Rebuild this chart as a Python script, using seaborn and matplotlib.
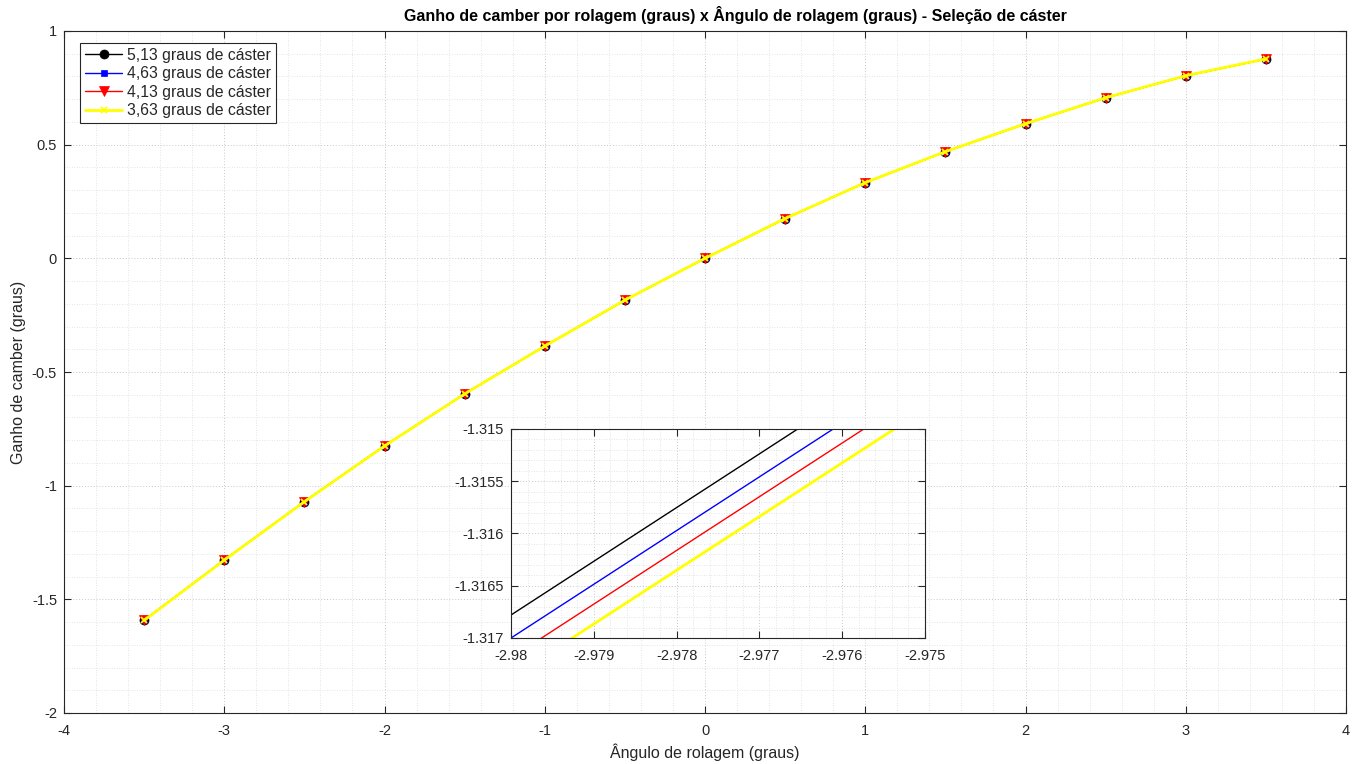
import matplotlib
matplotlib.use("Agg")
import matplotlib.pyplot as plt
from matplotlib.ticker import MultipleLocator, FuncFormatter
import numpy as np
import pandas as pd
import seaborn as sns

# Roll angle (degrees)
roll_angle = [-3.5, -3.0, -2.5, -2.0, -1.5, -1.0, -0.5, 0.0, 0.5, 1.0, 1.5, 2.0, 2.5, 3.0, 3.5]

# Camber gain (degrees) for each caster setting
camber_513 = [-1.59200, -1.32706, -1.07006, -0.82500, -0.59600, -0.38600, -0.18400, 0.00000,
              0.17500, 0.33300, 0.46900, 0.59200, 0.70600, 0.80300, 0.87700]
camber_463 = [-1.59227, -1.32728, -1.07028, -0.82517, -0.59612, -0.38608, -0.18404, 0.00000,
              0.17504, 0.33307, 0.46910, 0.59212, 0.70614, 0.80316, 0.87718]
camber_413 = [-1.59250, -1.32747, -1.07047, -0.82532, -0.59623, -0.38615, -0.18407, 0.00000,
              0.17507, 0.33313, 0.46918, 0.59222, 0.70626, 0.80330, 0.87734]
camber_363 = [-1.59275, -1.32766, -1.07066, -0.82547, -0.59634, -0.38622, -0.18411, 0.00000,
              0.17511, 0.33320, 0.46927, 0.59233, 0.70638, 0.80344, 0.87751]

series_labels = ["5,13 graus de cáster", "4,63 graus de cáster",
                 "4,13 graus de cáster", "3,63 graus de cáster"]

title_text = "Ganho de camber por rolagem (graus) x Ângulo de rolagem (graus) - Seleção de cáster"
xlabel_text = "Ângulo de rolagem (graus)"
ylabel_text = "Ganho de camber (graus)"

frames = []
for lab, vals in zip(series_labels, [camber_513, camber_463, camber_413, camber_363]):
    frames.append(pd.DataFrame({"roll": roll_angle, "camber": vals, "serie": lab}))
df = pd.concat(frames, ignore_index=True)

styles = {
    series_labels[0]: dict(color="black", marker="o", ms=6.5, lw=1.0, mew=0.5),
    series_labels[1]: dict(color="#0000ff", marker="s", ms=5, lw=1.0, mew=0.5),
    series_labels[2]: dict(color="#ff0000", marker="v", ms=7, lw=1.0, mew=0.5),
    series_labels[3]: dict(color="#ffff00", marker="x", ms=5, lw=2.0, mew=1.3),
}

sns.set_theme(style="white")
plt.rcParams["font.family"] = ["Liberation Sans", "DejaVu Sans"]
plt.rcParams["axes.unicode_minus"] = False

fig = plt.figure(figsize=(13.63, 7.64), dpi=100)
fig.patch.set_facecolor("white")


def style_axes(ax, fs):
    ax.set_facecolor("white")
    for s in ax.spines.values():
        s.set_color("#262626")
        s.set_linewidth(0.8)
        s.set_visible(True)
    ax.tick_params(axis="both", which="major", direction="in", length=5, width=0.8,
                   colors="#262626", labelsize=fs, top=True, right=True,
                   bottom=True, left=True, labelcolor="#262626")
    ax.tick_params(axis="x", which="major", pad=8)
    ax.tick_params(axis="y", which="major", pad=5)
    ax.tick_params(axis="both", which="minor", length=0)
    ax.grid(True, which="major", color="#c8c8c8", linestyle=(0, (1, 2)), linewidth=0.7)
    ax.grid(True, which="minor", color="#dcdcdc", linestyle=(0, (1, 2)), linewidth=0.6)
    ax.set_axisbelow(True)


ax = fig.add_axes([64 / 1363, 51 / 764, 1282 / 1363, 682 / 764])
style_axes(ax, 10.5)
for lab in series_labels:
    st = styles[lab]
    sns.lineplot(data=df[df["serie"] == lab], x="roll", y="camber", ax=ax,
                 color=st["color"], marker=st["marker"], markersize=st["ms"],
                 linewidth=st["lw"], markeredgewidth=st["mew"],
                 markeredgecolor=st["color"], label=lab, estimator=None, sort=False)
ax.set_xlim(-4, 4)
ax.set_ylim(-2, 1)
ax.xaxis.set_major_locator(MultipleLocator(1))
ax.xaxis.set_minor_locator(MultipleLocator(0.2))
ax.yaxis.set_major_locator(MultipleLocator(0.5))
ax.yaxis.set_minor_locator(MultipleLocator(0.1))
ax.xaxis.set_major_formatter(FuncFormatter(lambda v, p: f"{v:g}"))
ax.yaxis.set_major_formatter(FuncFormatter(lambda v, p: f"{v:g}"))
ax.set_xlabel(xlabel_text, fontsize=11.5, color="#262626", labelpad=4)
ax.set_ylabel(ylabel_text, fontsize=11.5, color="#262626", labelpad=4)
ax.set_title(title_text, fontsize=11.5, fontweight="bold", color="black", pad=7, x=0.524)

leg = ax.legend(loc="upper left", bbox_to_anchor=(0.0125, 0.982), fontsize=11.3,
                frameon=True, fancybox=False, framealpha=1, edgecolor="#262626",
                borderpad=0.3, labelspacing=0.22, handlelength=2.4, handletextpad=0.3,
                borderaxespad=0.0)
leg.get_frame().set_linewidth(0.8)

# Zoomed view near the -3 degree roll point
axi = fig.add_axes([511 / 1363, 126 / 764, 414 / 1363, 209 / 764])
style_axes(axi, 10.5)
for lab in series_labels:
    st = styles[lab]
    sns.lineplot(data=df[df["serie"] == lab], x="roll", y="camber", ax=axi,
                 color=st["color"], linewidth=st["lw"] * 1.0, legend=False,
                 estimator=None, sort=False)
axi.set_xlim(-2.98, -2.975)
axi.set_ylim(-1.317, -1.315)
axi.xaxis.set_major_locator(MultipleLocator(0.001))
axi.xaxis.set_minor_locator(MultipleLocator(0.0002))
axi.yaxis.set_major_locator(MultipleLocator(0.0005))
axi.yaxis.set_minor_locator(MultipleLocator(0.0001))
axi.xaxis.set_major_formatter(FuncFormatter(lambda v, p: f"{v:.6g}"))
axi.yaxis.set_major_formatter(FuncFormatter(lambda v, p: f"{v:.6g}"))
axi.set_xlabel("")
axi.set_ylabel("")

fig.savefig("out.png", dpi=100, facecolor=fig.get_facecolor())
